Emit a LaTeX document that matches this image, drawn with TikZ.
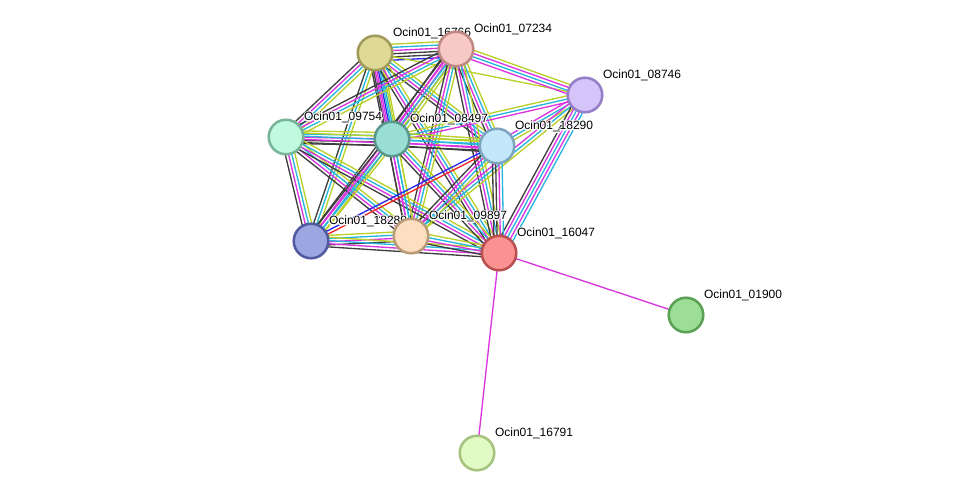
\documentclass[tikz,border=0pt]{standalone}
\usepackage{fontspec}
\setmainfont{Liberation Sans}
\usetikzlibrary{calc,backgrounds}

% evidence colours
\definecolor{stdb}{RGB}{38,182,218}
\definecolor{stexp}{RGB}{218,52,222}
\definecolor{sttm}{RGB}{186,208,40}
\definecolor{stco}{RGB}{62,62,62}
\definecolor{stfus}{RGB}{240,40,40}
\definecolor{stocc}{RGB}{40,40,235}

\tikzset{
  prot/.style={circle,draw,line width=1.9pt,minimum size=25.9pt,inner sep=0pt},
  lbl/.style={font=\fontsize{9}{10}\selectfont,anchor=south west,inner sep=1pt,xshift=2.5pt,yshift=-0.4pt},
  lnk/.style={line width=1pt}
}

% a bundle of parallel lines, one colour each
\newcommand{\bundle}[3]{%
  \foreach \c [count=\n] in {#3} {\xdef\nbund{\n}}%
  \foreach \c [count=\i] in {#3} {%
    \pgfmathsetmacro\off{(\i-(\nbund+1)/2)*2.4}%
    \draw[lnk,\c] ($(#1)!\off pt!90:(#2)$) -- ($(#2)!\off pt!-90:(#1)$);
  }}
% label with a white halo
\newcommand{\plabel}[1]{\leavevmode\rlap{\color{white}\special{pdf:literal direct 1 Tr 1.8 w 1 j}#1\special{pdf:literal direct 0 Tr}}#1}

\begin{document}
\begin{tikzpicture}[x=0.75pt,y=-0.75pt]
      \useasboundingbox (0,0) rectangle (976,499);

      % Proteins
      \node [prot,fill={rgb,255:red,222;green,218;blue,150},draw={rgb,255:red,160;green,155;blue,90},label={[lbl]45:\plabel{Ocin01\_16766}}] (a) at (375,53) {};
      \node [prot,fill={rgb,255:red,246;green,200;blue,198},draw={rgb,255:red,190;green,135;blue,130},label={[lbl]45:\plabel{Ocin01\_07234}}] (b) at (456,49) {};
      \node [prot,fill={rgb,255:red,212;green,196;blue,250},draw={rgb,255:red,150;green,125;blue,200},label={[lbl]45:\plabel{Ocin01\_08746}}] (c) at (585,95) {};
      \node [prot,fill={rgb,255:red,192;green,250;blue,222},draw={rgb,255:red,120;green,180;blue,150},label={[lbl]45:\plabel{Ocin01\_09754}}] (d) at (286,137) {};
      \node [prot,fill={rgb,255:red,152;green,222;blue,212},draw={rgb,255:red,90;green,150;blue,140},label={[lbl]45:\plabel{Ocin01\_08497}}] (e) at (392,139) {};
      \node [prot,fill={rgb,255:red,196;green,232;blue,250},draw={rgb,255:red,125;green,165;blue,190},label={[lbl]45:\plabel{Ocin01\_18290}}] (f) at (497,146) {};
      \node [prot,fill={rgb,255:red,156;green,166;blue,224},draw={rgb,255:red,80;green,90;blue,160},label={[lbl]45:\plabel{Ocin01\_18289}}] (g) at (311,241) {};
      \node [prot,fill={rgb,255:red,252;green,222;blue,192},draw={rgb,255:red,185;green,155;blue,120},label={[lbl]45:\plabel{Ocin01\_09897}}] (h) at (411,236) {};
      \node [prot,fill={rgb,255:red,250;green,146;blue,146},draw={rgb,255:red,185;green,80;blue,80},label={[lbl]45:\plabel{Ocin01\_16047}}] (i) at (499,253) {};
      \node [prot,fill={rgb,255:red,156;green,222;blue,150},draw={rgb,255:red,90;green,160;blue,85},label={[lbl]45:\plabel{Ocin01\_01900}}] (j) at (686,315) {};
      \node [prot,fill={rgb,255:red,226;green,250;blue,196},draw={rgb,255:red,165;green,195;blue,125},label={[lbl]45:\plabel{Ocin01\_16791}}] (k) at (477,453) {};

      % Edges
      \begin{pgfonlayer}{background}
      \bundle{a}{b}{stocc,stco,stco,stexp,stdb,sttm}
      \bundle{a}{c}{sttm}
      \bundle{a}{d}{stco,stexp,stdb,sttm}
      \bundle{a}{e}{stco,stexp,stocc,stdb,sttm}
      \bundle{a}{f}{stco,stexp,stdb,sttm}
      \bundle{a}{g}{stco,stdb,sttm}
      \bundle{a}{h}{stco,stexp,stdb,sttm}
      \bundle{a}{i}{stco,stexp,stdb,sttm}
      \bundle{b}{c}{stexp,stdb,stexp,sttm}
      \bundle{b}{d}{stco,stexp,stdb,sttm}
      \bundle{b}{e}{stco,stexp,stexp,stdb,sttm}
      \bundle{b}{f}{stco,stexp,stdb,sttm}
      \bundle{b}{g}{stco,stexp,stdb,sttm}
      \bundle{b}{h}{stco,stexp,stdb,sttm}
      \bundle{b}{i}{stco,stexp,stdb,sttm}
      \bundle{c}{e}{sttm,stdb,stexp}
      \bundle{c}{f}{stexp,stdb,sttm}
      \bundle{c}{h}{stexp,stdb,sttm}
      \bundle{c}{i}{stco,stexp,stdb,stexp,stdb}
      \bundle{d}{e}{stco,stco,stexp,stdb,sttm}
      \bundle{d}{f}{stco,stexp,stdb,sttm}
      \bundle{d}{g}{stco,stexp,stdb,sttm}
      \bundle{d}{h}{stco,stexp,stdb,sttm}
      \bundle{d}{i}{stco,stexp,stdb,sttm}
      \bundle{e}{f}{stco,stexp,stdb,sttm,sttm}
      \bundle{e}{g}{stco,stexp,stdb,sttm}
      \bundle{e}{h}{stco,stexp,stdb,sttm}
      \bundle{e}{i}{stco,stexp,stdb,sttm}
      \bundle{f}{g}{stocc,stfus}
      \bundle{f}{h}{stco,stexp,stdb,sttm}
      \bundle{f}{i}{stco,stco,stexp,stdb}
      \bundle{g}{h}{stco,stexp,stdb,sttm}
      \bundle{g}{i}{stco,stexp,stdb,sttm}
      \bundle{h}{i}{stco,stexp,stdb,sttm}
      \bundle{i}{j}{stexp}
      \bundle{i}{k}{stexp}
      \end{pgfonlayer}
\end{tikzpicture}
\end{document}
